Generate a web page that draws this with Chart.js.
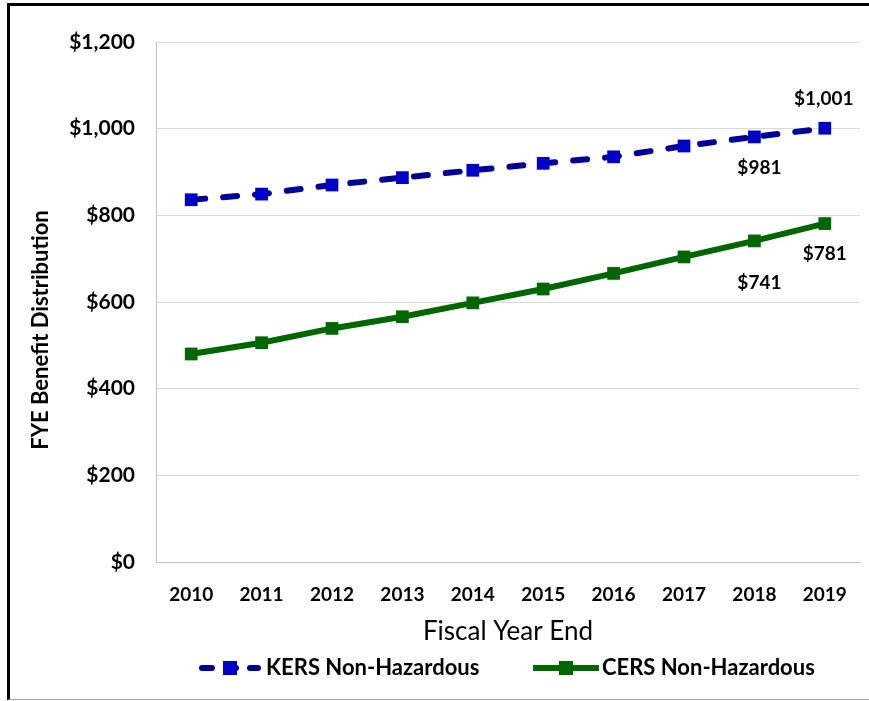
<!DOCTYPE html>
<html>
<head>
<meta charset="utf-8">
<script src="https://cdn.jsdelivr.net/npm/chart.js@4.4.1/dist/chart.umd.min.js"></script>
<style>
  html, body { margin: 0; padding: 0; background: #fff; }
  #wrap { position: relative; width: 869px; height: 701px; overflow: hidden; }
  #frame {
    position: absolute; left: 7px; top: 3px; width: 880px; height: 693px;
    border-left: 3px solid #000; border-top: 3px solid #000; border-bottom: 1px solid #a0a0a0;
    pointer-events: none;
  }
  canvas { position: absolute; left: 0; top: 0; }
</style>
</head>
<body>
<div id="wrap">
  <canvas id="chart" width="869" height="701"></canvas>
  <div id="frame"></div>
</div>
<script>
// Benefit distribution by fiscal year end, KERS vs CERS (non-hazardous)
const years = ['2010', '2011', '2012', '2013', '2014', '2015', '2016', '2017', '2018', '2019'];
const kersNonHaz = [836, 849, 870, 887, 904, 920, 935, 960, 981, 1001];
const cersNonHaz = [480, 506, 539, 566, 598, 630, 666, 704, 741, 781];
const yTicks = [0, 200, 400, 600, 800, 1000, 1200];

const FONT = 'Lato, "Open Sans", sans-serif';
const BLUE = '#000099';
const BLUE_MARK = '#0000c8';
const GREEN = '#006600';

const money = v => '$' + v.toLocaleString('en-US');

// which points get a value label, and where it sits relative to the point
const valueLabels = [
    { ds: 0, i: 9, dx: -1, dy: -29 },
    { ds: 0, i: 8, dx: 5,  dy: 31 },
    { ds: 1, i: 9, dx: 0,  dy: 30 },
    { ds: 1, i: 8, dx: 5,  dy: 42 },
];

// ── Plugins ──────────────────────────────────────────────────────────────────

const pointLabels = {
    id: 'pointLabels',
    afterDatasetsDraw(chart) {
        const { ctx } = chart;
        ctx.save();
        ctx.font = `bold 19px ${FONT}`;
        ctx.fillStyle = '#000';
        ctx.textAlign = 'center';
        ctx.textBaseline = 'middle';
        valueLabels.forEach(l => {
            const pt = chart.getDatasetMeta(l.ds).data[l.i];
            const v = chart.data.datasets[l.ds].data[l.i];
            ctx.fillText(money(v), pt.x + l.dx, pt.y + l.dy);
        });
        ctx.restore();
    },
};

const sideTitle = {
    id: 'sideTitle',
    afterDraw(chart) {
        const { ctx } = chart;
        ctx.save();
        ctx.translate(41, 330);
        ctx.rotate(-Math.PI / 2);
        ctx.font = `bold 22px ${FONT}`;
        ctx.fillStyle = '#000';
        ctx.textAlign = 'center';
        ctx.textBaseline = 'middle';
        ctx.fillText('FYE Benefit Distribution', 0, 0);
        ctx.restore();
    },
};

// legend: line sample with a marker in the middle, then the series name
const lineLegend = {
    id: 'lineLegend',
    afterDraw(chart) {
        const { ctx } = chart;
        const y = 668;
        const items = [
            { ds: 0, x0: 202, x1: 258, tx: 266, dash: [10, 14] },
            { ds: 1, x0: 533, x1: 599, tx: 602 },
        ];
        ctx.save();
        items.forEach(it => {
            const d = chart.data.datasets[it.ds];
            ctx.strokeStyle = d.borderColor;
            ctx.lineWidth = d.borderWidth;
            ctx.lineCap = d.borderCapStyle || 'butt';
            ctx.setLineDash(it.dash || d.borderDash || []);
            ctx.beginPath();
            ctx.moveTo(it.x0, y);
            ctx.lineTo(it.x1, y);
            ctx.stroke();
            ctx.setLineDash([]);
            const s = 14;
            ctx.fillStyle = d.pointBackgroundColor;
            ctx.fillRect(Math.round((it.x0 + it.x1) / 2 - s / 2), y - s / 2, s, s);
            ctx.fillStyle = '#000';
            ctx.font = `bold 22px ${FONT}`;
            ctx.textBaseline = 'middle';
            ctx.fillText(d.label, it.tx, y);
        });
        ctx.restore();
    },
};

// ── Chart ────────────────────────────────────────────────────────────────────

new Chart(document.getElementById('chart').getContext('2d'), {
    type: 'line',
    data: {
        labels: years,
        datasets: [
            {
                label: 'KERS Non-Hazardous',
                data: kersNonHaz,
                borderColor: BLUE,
                borderWidth: 6,
                borderDash: [14, 18],
                borderCapStyle: 'round',
                pointStyle: 'rect',
                pointRadius: 9,
                pointBackgroundColor: BLUE_MARK,
                pointBorderColor: BLUE_MARK,
                pointBorderWidth: 0,
                tension: 0,
            },
            {
                label: 'CERS Non-Hazardous',
                data: cersNonHaz,
                borderColor: GREEN,
                borderWidth: 6,
                pointStyle: 'rect',
                pointRadius: 9,
                pointBackgroundColor: GREEN,
                pointBorderColor: GREEN,
                pointBorderWidth: 0,
                tension: 0,
            },
        ],
    },
    options: {
        responsive: false,
        animation: false,
        layout: { padding: { left: 0, top: 42, right: 5, bottom: 0 } },
        plugins: {
            legend: { display: false },
            tooltip: { enabled: false },
        },
        scales: {
            x: {
                offset: true,
                afterFit: s => { s.height = 139; },
                grid: { display: false, drawTicks: false },
                border: { color: '#bfbfbf', width: 1 },
                ticks: { color: '#000', padding: 21, font: { family: FONT, size: 19, weight: 'bold' } },
                title: {
                    display: true,
                    text: 'Fiscal Year End',
                    color: '#000',
                    font: { family: FONT, size: 26 },
                    padding: { top: 0, bottom: 54 },
                },
            },
            y: {
                min: 0,
                max: 1200,
                afterFit: s => { s.width = 156; },
                afterBuildTicks: s => { s.ticks = yTicks.map(v => ({ value: v })); },
                grid: { color: '#d9d9d9', lineWidth: 1, drawTicks: false },
                border: { color: '#bfbfbf', width: 1 },
                ticks: {
                    color: '#000',
                    padding: 21,
                    font: { family: FONT, size: 21, weight: 'bold' },
                    callback: v => money(v),
                },
            },
        },
    },
    plugins: [pointLabels, sideTitle, lineLegend],
});
</script>
</body>
</html>
